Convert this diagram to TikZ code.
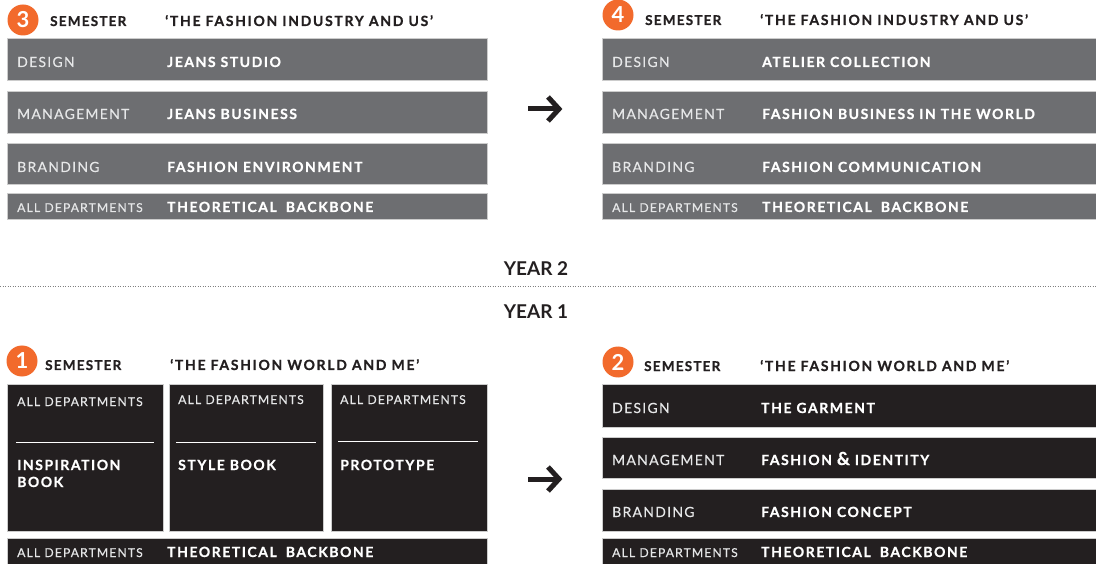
\documentclass[tikz,border=0pt]{standalone}
\usepackage{fontspec}
\setmainfont{Lato}
\newfontfamily\labfont[LetterSpace=9,FakeBold=0.35]{Lato}
\newfontfamily\bfont[LetterSpace=11,BoldFeatures={FakeBold=0.8}]{Lato}
\newfontfamily\hfont[LetterSpace=12,BoldFeatures={FakeBold=0.8}]{Lato}
\newfontfamily\sfont[LetterSpace=9,BoldFeatures={FakeBold=0.8}]{Lato}
\newcommand{\tbb}{THEORETICAL\hspace{9pt}BACKBONE}
\definecolor{bargray}{HTML}{6D6E71}
\definecolor{bardark}{HTML}{231F20}
\definecolor{orng}{HTML}{F26A2C}
\definecolor{labwhite}{HTML}{E6E7E8}
\begin{document}
\begin{tikzpicture}[x=1pt,y=-1pt,
 lab/.style={anchor=base west, inner sep=0pt, text=labwhite, font=\labfont\fontsize{14}{14}\selectfont},
 labs/.style={anchor=base west, inner sep=0pt, text=labwhite, font=\labfont\fontsize{12.2}{13}\selectfont},
 ttl/.style={anchor=base west, inner sep=0pt, text=white, font=\bfont\bfseries\fontsize{14}{14}\selectfont},
 hdr/.style={anchor=base west, inner sep=0pt, text=bardark, font=\sfont\bfseries\fontsize{13.5}{14}\selectfont},
 htl/.style={anchor=base west, inner sep=0pt, text=bardark, font=\hfont\bfseries\fontsize{14}{14}\selectfont},
 num/.style={circle, fill=orng, minimum size=31pt, inner sep=0pt, text=white, font=\bfseries\fontsize{22}{22}\selectfont},
 yr/.style={anchor=base, inner sep=0pt, text=bardark, font=\bfseries\fontsize{19}{19}\selectfont},
 gbar/.style={fill=bargray, draw=black!20, line width=0.8pt},
 dbar/.style={fill=bardark, draw=black!20, line width=0.8pt},
 arr/.style={line width=5pt, draw=bardark, miter limit=10},
 rulew/.style={draw=white, line width=1pt},
]
\useasboundingbox (0,0) rectangle (1096,564);
\fill[white] (0,0) rectangle (1096,564);

% ---------- Semester 3 (top left) ----------
\node[num] (n3) at (23,20) {3};
\node[hdr] (s3) at (50,26) {SEMESTER};
\node[htl] (t3) at (165,26) {‘THE FASHION INDUSTRY AND US’};
\path[gbar] (7,38) rectangle (487,80);
\path[gbar] (7,91) rectangle (487,133);
\path[gbar] (7,143) rectangle (487,184);
\path[gbar] (7,193) rectangle (487,219);
\node[lab] (l3a) at (17,67) {DESIGN};
\node[ttl] (r3a) at (167,67) {JEANS STUDIO};
\node[lab] (l3b) at (17,119) {MANAGEMENT};
\node[ttl] (r3b) at (167,119) {JEANS BUSINESS};
\node[lab] (l3c) at (17,172) {BRANDING};
\node[ttl] (r3c) at (167,172) {FASHION ENVIRONMENT};
\node[labs] (l3d) at (17,212) {ALL DEPARTMENTS};
\node[ttl] (r3d) at (167,212) {\tbb};

% ---------- Semester 4 (top right) ----------
\node[num] (n4) at (618,15) {4};
\node[hdr] (s4) at (645,25) {SEMESTER};
\node[htl] (t4) at (760,25) {‘THE FASHION INDUSTRY AND US’};
\path[gbar] (602,38) rectangle (1100,80);
\path[gbar] (602,91) rectangle (1100,133);
\path[gbar] (602,143) rectangle (1100,184);
\path[gbar] (602,193) rectangle (1100,219);
\node[lab] (l4a) at (612,67) {DESIGN};
\node[ttl] (r4a) at (762,67) {ATELIER COLLECTION};
\node[lab] (l4b) at (612,119) {MANAGEMENT};
\node[ttl] (r4b) at (762,119) {FASHION BUSINESS IN THE WORLD};
\node[lab] (l4c) at (612,172) {BRANDING};
\node[ttl] (r4c) at (762,172) {FASHION COMMUNICATION};
\node[labs] (l4d) at (612,212) {ALL DEPARTMENTS};
\node[ttl] (r4d) at (762,212) {\tbb};

% ---------- arrows ----------
\coordinate (a1s) at (528,109);
\coordinate (a1e) at (559,109);
\coordinate (a1t) at (548,97);
\coordinate (a1b) at (548,121);
\draw[arr] (a1s) -- (a1e);
\draw[arr] (a1t) -- (a1e) -- (a1b);
\coordinate (a2s) at (528,479);
\coordinate (a2e) at (559,479);
\coordinate (a2t) at (548,467);
\coordinate (a2b) at (548,491);
\draw[arr] (a2s) -- (a2e);
\draw[arr] (a2t) -- (a2e) -- (a2b);

% ---------- years ----------
\node[yr] (y2) at (536,276) {YEAR 2};
\coordinate (dl) at (0,287);
\coordinate (dr) at (1096,287);
\draw[gray, line width=1pt, dash pattern=on 1pt off 1.5pt] (dl) -- (dr);
\node[yr] (y1) at (536,319) {YEAR 1};

% ---------- Semester 1 (bottom left) ----------
\node[num] (n1) at (22,361) {1};
\node[hdr] (s1) at (45,370) {SEMESTER};
\node[htl] (t1) at (170,370) {‘THE FASHION WORLD AND ME’};
\path[dbar] (7,384) rectangle (163,531);
\path[dbar] (169,384) rectangle (323,531);
\path[dbar] (331,384) rectangle (487,531);
\node[labs] (b1h) at (17,406) {ALL DEPARTMENTS};
\node[labs] (b2h) at (178,404) {ALL DEPARTMENTS};
\node[labs] (b3h) at (340,404) {ALL DEPARTMENTS};
\coordinate (r1l) at (16,442); \coordinate (r1r) at (154,442);
\coordinate (r2l) at (176,442); \coordinate (r2r) at (316,442);
\coordinate (r3l) at (338,441); \coordinate (r3r) at (478,441);
\draw[rulew] (r1l) -- (r1r);
\draw[rulew] (r2l) -- (r2r);
\draw[rulew] (r3l) -- (r3r);
\node[ttl] (b1t) at (17,470) {INSPIRATION};
\node[ttl] (b1u) at (17,487) {BOOK};
\node[ttl] (b2t) at (178,470) {STYLE BOOK};
\node[ttl] (b3t) at (340,470) {PROTOTYPE};
\path[dbar] (7,538) rectangle (487,570);
\node[labs] (l1d) at (17,557) {ALL DEPARTMENTS};
\node[ttl] (r1d) at (167,557) {\tbb};

% ---------- Semester 2 (bottom right) ----------
\node[num] (n2) at (618,362) {2};
\node[hdr] (s2) at (644,371) {SEMESTER};
\node[htl] (t2) at (760,371) {‘THE FASHION WORLD AND ME’};
\path[dbar] (602,384) rectangle (1100,427);
\path[dbar] (602,437) rectangle (1100,478);
\path[dbar] (602,489) rectangle (1100,531);
\path[dbar] (602,538) rectangle (1100,570);
\node[lab] (l2a) at (612,413) {DESIGN};
\node[ttl] (r2a) at (761,413) {THE GARMENT};
\node[lab] (l2b) at (612,465) {MANAGEMENT};
\node[ttl] (r2b) at (761,465) {FASHION {\fontsize{18}{18}\selectfont\&} IDENTITY};
\node[lab] (l2c) at (612,517) {BRANDING};
\node[ttl] (r2c) at (761,517) {FASHION CONCEPT};
\node[labs] (l2d) at (612,557) {ALL DEPARTMENTS};
\node[ttl] (r2d) at (761,557) {\tbb};
\end{tikzpicture}
\end{document}
